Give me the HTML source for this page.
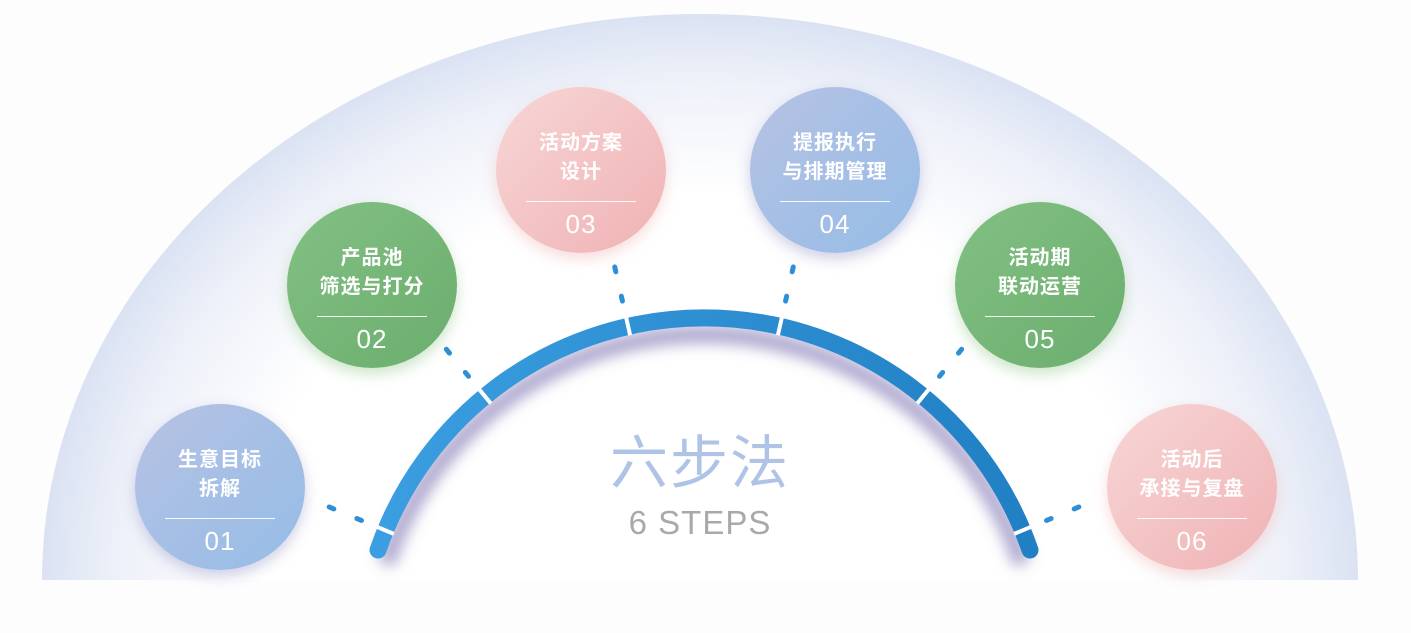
<!DOCTYPE html>
<html><head><meta charset="utf-8">
<style>
html,body{margin:0;padding:0;background:#fdfdfe;}
body{width:1411px;height:633px;overflow:hidden;position:relative;font-family:"Liberation Sans","Noto Sans CJK SC",sans-serif;}
.c{position:absolute;width:170px;height:166px;border-radius:50%;color:#fff;text-align:center;}
.c .t{position:absolute;left:0;right:0;top:42px;font-size:20px;font-weight:bold;line-height:29px;letter-spacing:1px;}
.c .r{position:absolute;left:30px;width:110px;top:114px;border-top:1.5px solid rgba(255,255,255,.9);}
.c .n{position:absolute;left:0;right:0;top:122px;font-size:26px;letter-spacing:1px;font-family:"Liberation Sans",sans-serif;}
.b{background:linear-gradient(135deg,#b6c2e4,#95bce6);box-shadow:0 6px 14px rgba(150,150,200,.45);}
.g{background:linear-gradient(135deg,#82c083,#6bae6e);box-shadow:0 6px 14px rgba(130,190,120,.4);}
.p{background:linear-gradient(135deg,#f7d6d6,#f0b2b4);box-shadow:0 6px 14px rgba(240,180,180,.45);}
</style></head><body>
<svg width="1411" height="633" style="position:absolute;left:0;top:0">
<defs>
<radialGradient id="bg" cx="700" cy="580" r="660" gradientUnits="userSpaceOnUse" gradientTransform="translate(700 580) scale(1 0.86) translate(-700 -580)">
<stop offset="0.68" stop-color="#ffffff"/>
<stop offset="0.88" stop-color="#eef1f9"/>
<stop offset="1" stop-color="#dae2f2"/>
</radialGradient>
<linearGradient id="arc" x1="378" y1="0" x2="1030" y2="0" gradientUnits="userSpaceOnUse">
<stop offset="0" stop-color="#3a9ee0"/><stop offset="1" stop-color="#2180c4"/>
</linearGradient>
<filter id="sh" x="-20%" y="-20%" width="140%" height="140%"><feGaussianBlur stdDeviation="7"/></filter>
</defs>
<path d="M42 580 A658 566 0 0 1 1358 580 Z" fill="url(#bg)"/>
<path d="M386 564 A335 335 0 0 1 1022 564" fill="none" stroke="#7d70b0" stroke-opacity=".6" stroke-width="18" filter="url(#sh)"/>
<path d="M378 550 A345 345 0 0 1 1030 550" fill="none" stroke="url(#arc)" stroke-width="17" stroke-linecap="round"/>
<g stroke="#fff" stroke-width="4">
<line x1="1040" y1="663" x2="1058" y2="663" transform="rotate(-157.4 704 663)"/>
<line x1="1040" y1="663" x2="1058" y2="663" transform="rotate(-129.4 704 663)"/>
<line x1="1040" y1="663" x2="1058" y2="663" transform="rotate(-102.7 704 663)"/>
<line x1="1040" y1="663" x2="1058" y2="663" transform="rotate(-77.3 704 663)"/>
<line x1="1040" y1="663" x2="1058" y2="663" transform="rotate(-50.6 704 663)"/>
<line x1="1040" y1="663" x2="1058" y2="663" transform="rotate(-22.6 704 663)"/>
</g>
<g stroke="#2f8fd6" stroke-width="5" stroke-linecap="round">
<g transform="rotate(-157.4 704 663)"><line x1="1075" y1="663" x2="1080" y2="663"/><line x1="1105" y1="663" x2="1110" y2="663"/></g>
<g transform="rotate(-129.4 704 663)"><line x1="1075" y1="663" x2="1080" y2="663"/><line x1="1105" y1="663" x2="1110" y2="663"/></g>
<g transform="rotate(-102.7 704 663)"><line x1="1075" y1="663" x2="1080" y2="663"/><line x1="1105" y1="663" x2="1110" y2="663"/></g>
<g transform="rotate(-77.3 704 663)"><line x1="1075" y1="663" x2="1080" y2="663"/><line x1="1105" y1="663" x2="1110" y2="663"/></g>
<g transform="rotate(-50.6 704 663)"><line x1="1075" y1="663" x2="1080" y2="663"/><line x1="1105" y1="663" x2="1110" y2="663"/></g>
<g transform="rotate(-22.6 704 663)"><line x1="1075" y1="663" x2="1080" y2="663"/><line x1="1105" y1="663" x2="1110" y2="663"/></g>
</g>
<text x="700" y="483" text-anchor="middle" font-size="58" fill="#aec3e6" font-family="Noto Sans CJK SC, sans-serif" letter-spacing="2">六步法</text>
<text x="700" y="534" text-anchor="middle" font-size="33" fill="#a9a9a9" font-family="Liberation Sans, sans-serif" letter-spacing="1">6 STEPS</text>
</svg>

<div class="c b" style="left:135px;top:404px"><div class="t">生意目标<br>拆解</div><div class="r"></div><div class="n">01</div></div>
<div class="c g" style="left:287px;top:202px"><div class="t">产品池<br>筛选与打分</div><div class="r"></div><div class="n">02</div></div>
<div class="c p" style="left:496px;top:87px"><div class="t">活动方案<br>设计</div><div class="r"></div><div class="n">03</div></div>
<div class="c b" style="left:750px;top:87px"><div class="t">提报执行<br>与排期管理</div><div class="r"></div><div class="n">04</div></div>
<div class="c g" style="left:955px;top:202px"><div class="t">活动期<br>联动运营</div><div class="r"></div><div class="n">05</div></div>
<div class="c p" style="left:1107px;top:404px"><div class="t">活动后<br>承接与复盘</div><div class="r"></div><div class="n">06</div></div>
</body></html>
